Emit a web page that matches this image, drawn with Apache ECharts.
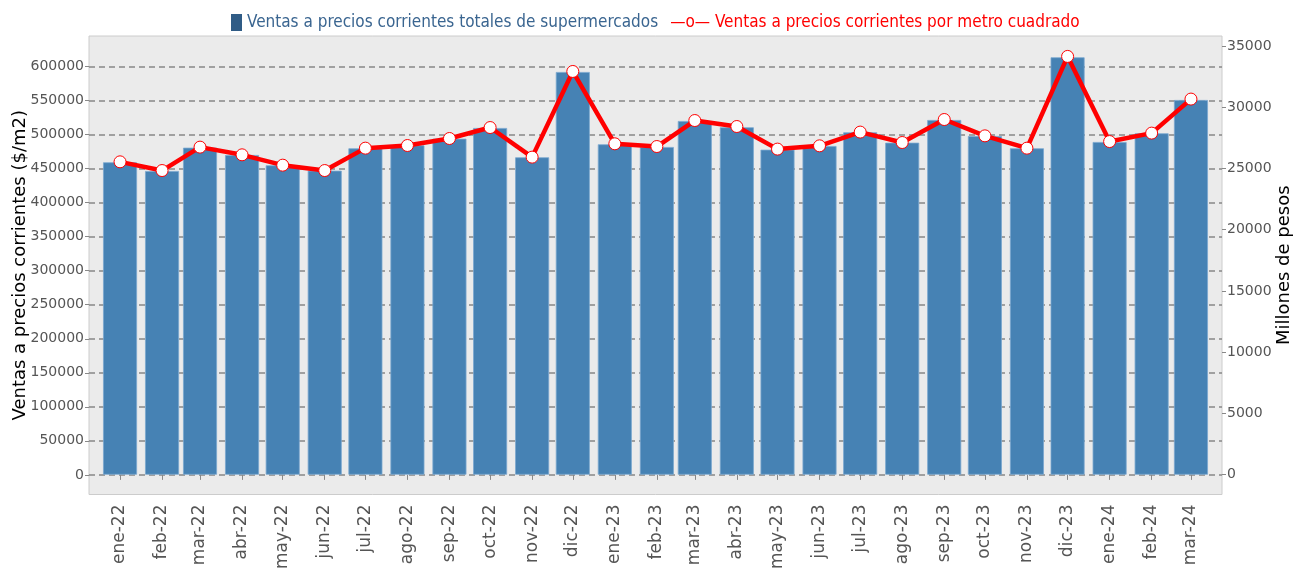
<!DOCTYPE html>
<html><head><meta charset="utf-8">
<script src="https://cdn.jsdelivr.net/npm/echarts@6/dist/echarts.min.js"></script>
<style>html,body{margin:0;padding:0;background:#fff}#c{width:1293px;height:568px}</style>
</head><body><div id="c"></div>
<script>
const categories = ['ene-22','feb-22','mar-22','abr-22','may-22','jun-22','jul-22','ago-22','sep-22','oct-22','nov-22','dic-22',
  'ene-23','feb-23','mar-23','abr-23','may-23','jun-23','jul-23','ago-23','sep-23','oct-23','nov-23','dic-23',
  'ene-24','feb-24','mar-24'];
const dates = ['2022-01-01','2022-02-01','2022-03-01','2022-04-01','2022-05-01','2022-06-01','2022-07-01','2022-08-01','2022-09-01','2022-10-01','2022-11-01','2022-12-01',
  '2023-01-01','2023-02-01','2023-03-01','2023-04-01','2023-05-01','2023-06-01','2023-07-01','2023-08-01','2023-09-01','2023-10-01','2023-11-01','2023-12-01',
  '2024-01-01','2024-02-01','2024-03-01'];
// Millones de pesos (eje derecho)
const ventasTotales = [25505,24794,26696,26101,25260,24818,26647,26892,27431,28305,25913,32876,
  26974,26754,28877,28362,26534,26835,27953,27104,28958,27652,26647,34077,
  27161,27872,30590];
// $/m2 (eje izquierdo)
const ventasM2 = [460000,447200,481600,470300,455100,447200,480100,484000,494300,510400,466900,592800,
  486500,482500,520700,511900,478700,483500,503700,488400,522200,498200,480100,614900,
  489800,502200,552200];
const leftTicks = [0,50000,100000,150000,200000,250000,300000,350000,400000,450000,500000,550000,600000];
const rightTicks = [0,5000,10000,15000,20000,25000,30000,35000];
const barName = 'Ventas a precios corrientes totales de supermercados';
const lineName = 'Ventas a precios corrientes por metro cuadrado';

function ts(s){const p=s.split('-').map(Number);return Date.UTC(p[0],p[1]-1,p[2]);}
const DAY = 86400000;
const times = dates.map(ts);
const xMin = times[0] - 22.9*DAY;
const xMax = times[times.length-1] + 22.9*DAY;
function labelFor(v){
  let best=0,bd=Infinity;
  times.forEach((t,i)=>{const d=Math.abs(t-v); if(d<bd){bd=d;best=i;}});
  return categories[best];
}
const FONT = 'DejaVu Sans';
const chart = echarts.init(document.getElementById('c'), null, {renderer:'canvas'});
chart.setOption({
  animation:false,
  backgroundColor:'#ffffff',
  legend:{
    top:9, left:226, itemGap:-4, itemWidth:11, itemHeight:17,
    textStyle:{fontFamily:'DejaVu Sans Condensed', fontSize:17},
    formatter:function(n){return n===lineName ? '\u2014o\u2014 '+n : n;},
    data:[
      {name:barName, icon:'rect', itemStyle:{color:'#305c86', borderWidth:0}, textStyle:{color:'#3a6590'}},
      {name:lineName, icon:'none', textStyle:{color:'#ff0000'}}
    ]
  },
  grid:{left:89, right:71, top:36, bottom:73.5, show:true, backgroundColor:'#ebebeb', borderColor:'#cccccc', borderWidth:1, containLabel:false, outerBoundsMode:'none'},
  xAxis:{
    type:'value', min:xMin, max:xMax,
    axisLine:{show:false},
    axisTick:{show:true, length:5, lineStyle:{color:'#888'}, customValues:times},
    axisLabel:{rotate:90, fontSize:17, color:'#555', fontFamily:FONT, margin:10, customValues:times, formatter:function(v){return labelFor(v);}},
    splitLine:{show:false}
  },
  yAxis:[
    {
      type:'value', position:'left', min:-28830, max:644900,
      name:'Ventas a precios corrientes ($/m2)', nameLocation:'middle', nameRotate:90, nameGap:60, nameMoveOverlap:false,
      nameTextStyle:{fontSize:18, color:'#000', fontFamily:FONT},
      axisLine:{show:false},
      axisTick:{show:true, length:4, lineStyle:{color:'#888'}, customValues:leftTicks},
      axisLabel:{fontSize:14, color:'#555', fontFamily:FONT, margin:5, customValues:leftTicks, formatter:function(v){return String(v);}},
      splitLine:{show:true, lineStyle:{color:'#888', width:1.5, type:[6,4]}}
    },
    {
      type:'value', position:'right', min:-1616, max:35815,
      name:'Millones de pesos', nameLocation:'middle', nameRotate:90, nameGap:53, nameMoveOverlap:false,
      nameTextStyle:{fontSize:18, color:'#000', fontFamily:FONT},
      axisLine:{show:false},
      axisTick:{show:true, length:4, lineStyle:{color:'#888'}, customValues:rightTicks},
      axisLabel:{fontSize:14, color:'#555', fontFamily:FONT, margin:5, customValues:rightTicks, formatter:function(v){return String(v);}},
      splitLine:{show:false}
    }
  ],
  series:[
    {
      name:barName, type:'bar', yAxisIndex:1, barWidth:34,
      itemStyle:{color:'#4682b4', borderColor:'#7aa7cf', borderWidth:0.8},
      data:times.map((t,i)=>[t, ventasTotales[i]])
    },
    {
      name:lineName, type:'line', yAxisIndex:0, z:5,
      lineStyle:{color:'#ff0000', width:4.5},
      symbol:'circle', symbolSize:12, showAllSymbol:true,
      itemStyle:{color:'#ffffff', borderColor:'#ff0000', borderWidth:1},
      data:times.map((t,i)=>[t, ventasM2[i]])
    }
  ]
});
</script>
</body></html>
